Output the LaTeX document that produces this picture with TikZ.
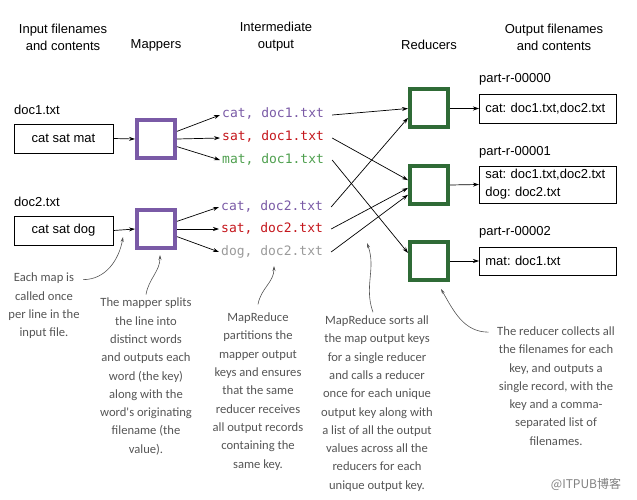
\documentclass[tikz,border=0pt]{standalone}
\usepackage{fontspec}
\setmainfont{Liberation Sans}
\newfontfamily\codefont{DejaVu Sans Mono}
\newfontfamily\handfont{Carlito}
\newfontfamily\cjkfont{Noto Sans CJK SC}
\usetikzlibrary{arrows.meta}
\definecolor{mapper purple}{HTML}{7A5AA6}
\definecolor{key red}{HTML}{C4161C}
\definecolor{key green}{HTML}{4E9F4E}
\definecolor{key gray}{HTML}{9A9A9A}
\definecolor{reducer green}{HTML}{2F6B36}
\definecolor{note gray}{HTML}{555555}
\tikzset{heading/.style={align=center, font=\fontsize{13}{17}\selectfont}}
\tikzset{filename/.style={anchor=west, inner sep=0pt, font=\fontsize{13}{16}\selectfont}}
\tikzset{filebox/.style={draw, line width=0.8pt, minimum width=99pt, minimum height=29pt, font=\fontsize{13}{16}\selectfont}}
\tikzset{mapper/.style={draw=mapper purple, line width=4pt, minimum size=38pt}}
\tikzset{reducer/.style={draw=reducer green, line width=4pt, minimum size=38pt}}
\tikzset{pair/.style={anchor=west, inner sep=2pt, text height=9pt, text depth=3pt, font=\codefont\fontsize{13}{16}\selectfont}}
\tikzset{outbox/.style={draw, line width=0.8pt, anchor=west, text width=125pt, inner xsep=6pt, inner ysep=3pt, align=left, font=\fontsize{13}{18}\selectfont\frenchspacing}}
\tikzset{flow/.style={-{Stealth[length=6pt,width=4pt]}, line width=0.7pt}}
\tikzset{note/.style={align=center, text=note gray, font=\handfont\fontsize{12.6}{18.3}\selectfont}}
\tikzset{note arrow/.style={-{Stealth[length=5pt,width=3pt]}, line width=0.6pt, note gray}}

\begin{document}
\begin{tikzpicture}[x=1pt, y=1pt]
  \useasboundingbox (0,0) rectangle (637,-500);
  % column headings
  \node[heading] (h-in) at (63,-37) {Input filenames\\and contents};
  \node[heading] (h-map) at (156,-45) {Mappers};
  \node[heading] (h-mid) at (276,-37) {Intermediate\\output};
  \node[heading] (h-red) at (429,-45) {Reducers};
  \node[heading] (h-out) at (554,-37) {Output filenames\\and contents};

  % input files
  \node[filename] (f1) at (14,-110) {doc1.txt};
  \node[filebox] (in1) at (63.5,-138.5) {cat sat mat};
  \node[filename] (f2) at (14,-202) {doc2.txt};
  \node[filebox] (in2) at (63.5,-230.5) {cat sat dog};

  % mappers
  \node[mapper] (map1) at (156,-139) {};
  \node[mapper] (map2) at (156,-229) {};

  % intermediate pairs
  \node[pair, text=mapper purple] (cat1) at (220,-115) {cat, doc1.txt};
  \node[pair, text=key red] (sat1) at (220,-138) {sat, doc1.txt};
  \node[pair, text=key green] (mat1) at (220,-160) {mat, doc1.txt};
  \node[pair, text=mapper purple] (cat2) at (219,-207) {cat, doc2.txt};
  \node[pair, text=key red] (sat2) at (219,-229) {sat, doc2.txt};
  \node[pair, text=key gray] (dog2) at (219,-252) {dog, doc2.txt};

  % reducers
  \node[reducer] (red1) at (429,-108.5) {};
  \node[reducer] (red2) at (429,-185) {};
  \node[reducer] (red3) at (429,-261) {};

  % output files
  \node[filename] (p0) at (479,-79) {part-r-00000};
  \node[outbox, minimum height=29pt] (out1) at (479,-108.5) {cat: doc1.txt,doc2.txt};
  \node[filename] (p1) at (479,-152) {part-r-00001};
  \node[outbox, minimum height=37pt] (out2) at (479,-184.5) {sat: doc1.txt,doc2.txt\\dog: doc2.txt};
  \node[filename] (p2) at (479,-232) {part-r-00002};
  \node[outbox, minimum height=28pt] (out3) at (479,-261) {mat: doc1.txt};

  % data flow
  \draw[flow] (in1.east) -- (map1.west);
  \draw[flow] (in2.east) -- (map2.west);
  \draw[flow] (map1.20) -- (cat1.west);
  \draw[flow] (map1.east) -- (sat1.west);
  \draw[flow] (map1.-20) -- (mat1.west);
  \draw[flow] (map2.20) -- (cat2.west);
  \draw[flow] (map2.east) -- (sat2.west);
  \draw[flow] (map2.-20) -- (dog2.west);
  \draw[flow] ([xshift=6pt]cat1.east) -- (red1.west);
  \draw[flow] ([xshift=6pt]sat1.east) -- (red2.167);
  \draw[flow] ([xshift=6pt]mat1.east) -- (red3.159);
  \draw[flow] ([xshift=6pt]cat2.east) -- (red1.204);
  \draw[flow] ([xshift=6pt]sat2.east) -- (red2.188);
  \draw[flow] ([xshift=6pt]dog2.east) -- (red2.205);
  \draw[flow] (red1.east) -- (out1.west);
  \draw[flow] (red2.east) -- (out2.west);
  \draw[flow] (red3.east) -- (out3.west);

  % notes
  \node[note] (note1) at (44,-306) {Each map is\\called once\\per line in the\\input file.};
  \node[note] (note2) at (146,-376.5) {The mapper splits\\the line into\\distinct words\\and outputs each\\word (the key)\\along with the\\word's originating\\filename (the\\value).};
  \node[note] (note3) at (258,-391.5) {MapReduce\\partitions the\\mapper output\\keys and ensures\\that the same\\reducer receives\\all output records\\containing the\\same key.};
  \node[note] (note4) at (377,-403.5) {MapReduce sorts all\\the map output keys\\for a single reducer\\and calls a reducer\\once for each unique\\output key along with\\a list of all the output\\values across all the\\reducers for each\\unique output key.};
  \node[note] (note5) at (556,-386) {The reducer collects all\\the filenames for each\\key, and outputs a\\single record, with the\\key and a comma-\\separated list of\\filenames.};

  \coordinate (tip1) at (123,-237);
  \coordinate (tip2) at (160,-255);
  \coordinate (tip3) at (274,-266);
  \coordinate (tip4) at (367,-243);
  \coordinate (tip5) at (441,-289);
  \draw[note arrow] ([yshift=-10pt]note1.north east) to[out=0, in=-100] (tip1);
  \draw[note arrow] (note2.north) to[out=80, in=-90] (tip2);
  \draw[note arrow] ([yshift=5pt]note3.north) to[out=80, in=-90] (tip3);
  \draw[note arrow] ([xshift=-4pt]note4.north) to[out=110, in=-70] (tip4);
  \draw[note arrow] ([shift={(-5pt,-9pt)}]note5.north west) to[out=180, in=-60] (tip5);

  \node[text=gray, font=\cjkfont\fontsize{12}{14}\selectfont] (mark) at (586,-484) {@ITPUB博客};
\end{tikzpicture}
\end{document}
